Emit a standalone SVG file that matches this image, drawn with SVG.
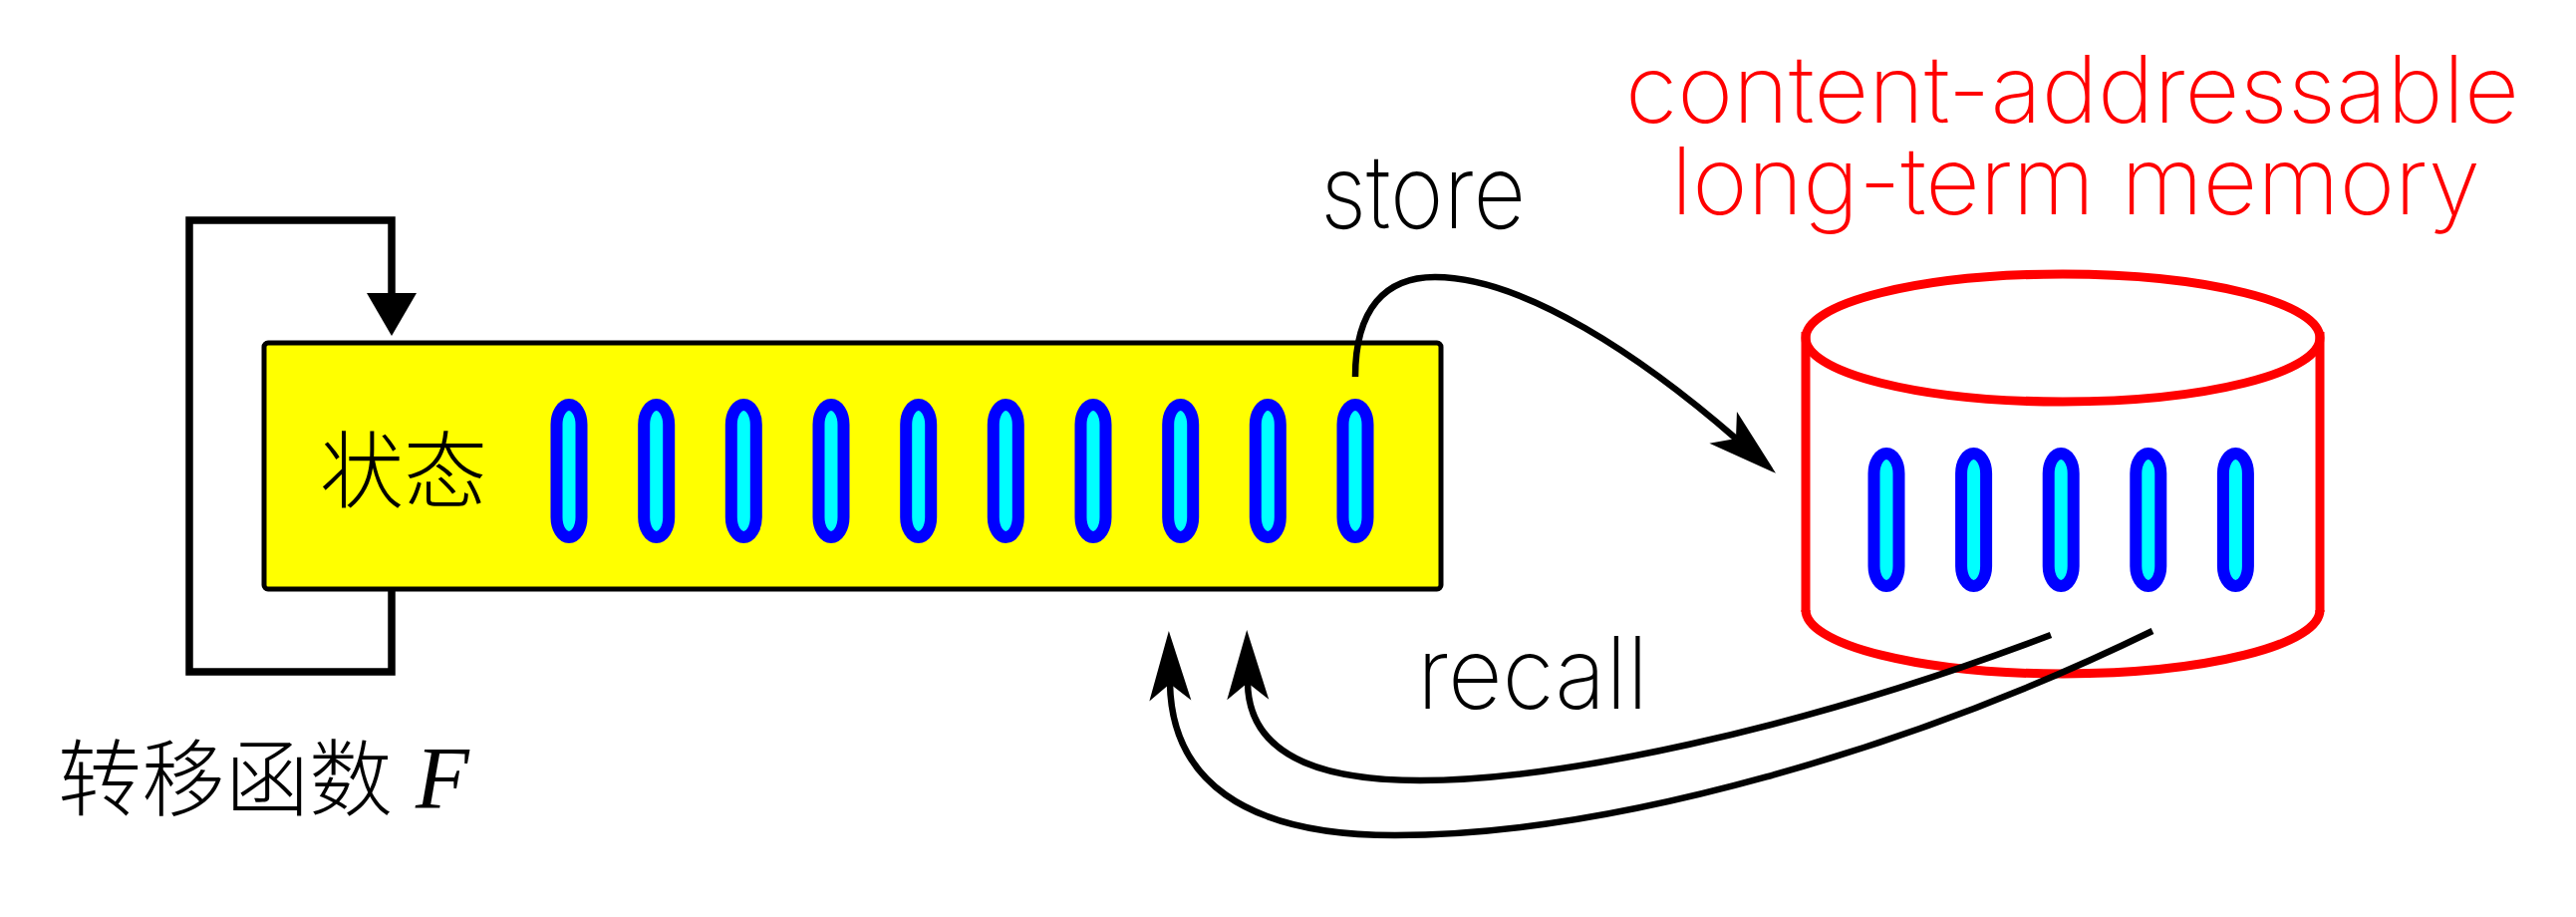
<svg xmlns="http://www.w3.org/2000/svg" width="2585" height="920" viewBox="0 0 2585 920">
  <style>
    .cell { fill: #00ffff; stroke: #0000ff; stroke-width: 12; }
    .wire { fill: none; stroke: #000000; stroke-width: 6.5; }
    .loop { fill: none; stroke: #000000; stroke-width: 7.5; stroke-linejoin: miter; }
    .cyl { fill: none; stroke: #ff0000; stroke-width: 9; }
    .lat { font-family: "Inter", "Roboto", "DejaVu Sans", sans-serif; font-weight: 200; }
    .cjk { font-family: "Noto Sans CJK SC", "Noto Sans CJK TC", sans-serif; font-weight: 300; font-size: 84px; fill: #000000; }
  </style>
  <defs>
    <marker id="tri" markerUnits="userSpaceOnUse" markerWidth="60" markerHeight="60" refX="0" refY="0" orient="auto" overflow="visible">
      <path d="M0,-25 L43,0 L0,25 Z" fill="#000000"/>
    </marker>
    <marker id="barb" markerUnits="userSpaceOnUse" markerWidth="80" markerHeight="80" refX="0" refY="0" orient="auto" overflow="visible">
      <path d="M53,0 L-17,-21 L0,0 L-17,21 Z" fill="#000000"/>
    </marker>
  </defs>
  <rect x="0" y="0" width="2585" height="920" fill="#ffffff"/>

  <g id="state">
    <rect x="265" y="344" width="1181" height="247" rx="4" fill="#ffff00" stroke="#000000" stroke-width="5"/>
    <text class="cjk" x="321" y="503">状态</text>
    <rect class="cell" x="558.5" y="406" width="25" height="133" rx="12.5" ry="20"/>
    <rect class="cell" x="646.2" y="406" width="25" height="133" rx="12.5" ry="20"/>
    <rect class="cell" x="733.8" y="406" width="25" height="133" rx="12.5" ry="20"/>
    <rect class="cell" x="821.5" y="406" width="25" height="133" rx="12.5" ry="20"/>
    <rect class="cell" x="909.2" y="406" width="25" height="133" rx="12.5" ry="20"/>
    <rect class="cell" x="996.8" y="406" width="25" height="133" rx="12.5" ry="20"/>
    <rect class="cell" x="1084.5" y="406" width="25" height="133" rx="12.5" ry="20"/>
    <rect class="cell" x="1172.2" y="406" width="25" height="133" rx="12.5" ry="20"/>
    <rect class="cell" x="1259.8" y="406" width="25" height="133" rx="12.5" ry="20"/>
    <rect class="cell" x="1347.5" y="406" width="25" height="133" rx="12.5" ry="20"/>
  </g>

  <g id="memory">
    <ellipse class="cyl" cx="2070" cy="339" rx="258" ry="64"/>
    <line class="cyl" x1="1812" y1="333" x2="1812" y2="614"/>
    <line class="cyl" x1="2328" y1="333" x2="2328" y2="614"/>
    <path class="cyl" d="M1812,612 A258,64 0 0 0 2328,612"/>
    <rect class="cell" x="1880.5" y="455" width="25" height="133" rx="12.5" ry="20"/>
    <rect class="cell" x="1968.1" y="455" width="25" height="133" rx="12.5" ry="20"/>
    <rect class="cell" x="2055.7" y="455" width="25" height="133" rx="12.5" ry="20"/>
    <rect class="cell" x="2143.3" y="455" width="25" height="133" rx="12.5" ry="20"/>
    <rect class="cell" x="2230.9" y="455" width="25" height="133" rx="12.5" ry="20"/>
    <text class="lat" font-size="94" fill="#ff0000"><tspan x="1631" y="123" textLength="897" lengthAdjust="spacingAndGlyphs">content-addressable</tspan><tspan x="1677" y="215" textLength="812" lengthAdjust="spacingAndGlyphs">long-term memory</tspan></text>
  </g>

  <g id="connectors">
    <path id="transition" class="loop" d="M393,591 L393,674 L190,674 L190,221 L393,221 L393,294" marker-end="url(#tri)"/>
    <path id="store" class="wire" d="M1360,378 C1360,310 1390,278 1440,278 C1530,278 1650,360 1742,440" marker-end="url(#barb)"/>
    <path id="recall-inner" class="wire" d="M2058,637 C1800,735 1560,783 1425,783 C1310,783 1253,750 1252,685" marker-end="url(#barb)"/>
    <path id="recall-outer" class="wire" d="M2160,633 C1920,750 1620,838 1400,838 C1245,838 1176,780 1174,686" marker-end="url(#barb)"/>
  </g>

  <g id="labels">
    <text class="lat" x="1325" y="229" font-size="103" fill="#000000" textLength="206" lengthAdjust="spacingAndGlyphs">store</text>
    <text class="lat" x="1422" y="711" font-size="100" fill="#000000" textLength="232" lengthAdjust="spacingAndGlyphs">recall</text>
    <text class="cjk" x="58" y="812">转移函数</text>
    <text x="417" y="810" font-family="Liberation Serif, serif" font-style="italic" font-size="88" fill="#000000">F</text>
  </g>
</svg>
